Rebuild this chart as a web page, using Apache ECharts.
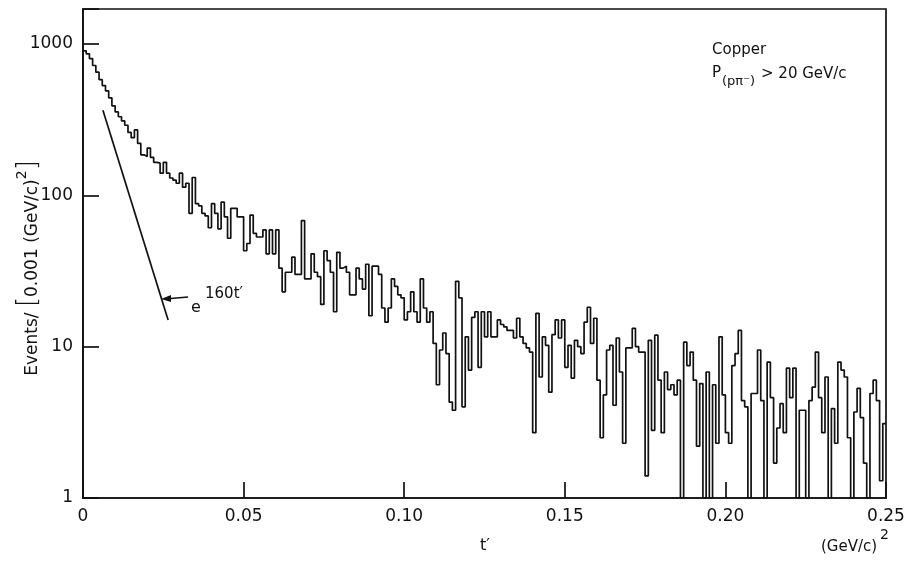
<!DOCTYPE html>
<html><head><meta charset="utf-8">
<script src="https://cdn.jsdelivr.net/npm/echarts@6/dist/echarts.min.js"></script>
<style>html,body{margin:0;padding:0;background:#fff}#c{width:911px;height:561px}</style>
</head><body><div id="c"></div>
<script>
// ---- data (events per 0.001 (GeV/c)^2 bin) ----
const binWidth = 0.001;
const counts = [
  900, 860, 800, 720, 650, 580, 530, 490, 440, 390,
  355, 330, 310, 290, 260, 240, 270, 220, 185, 180,
  205, 178, 165, 163, 140, 165, 140, 130, 126, 120,
  140, 113, 120, 76, 131, 88, 85, 76, 73, 61,
  88, 76, 60, 90, 72, 52, 82, 82, 72, 72,
  43, 48, 74, 56, 53, 53, 59, 41, 59, 41,
  59, 33, 23, 31, 31, 39, 30, 30, 68, 28,
  28, 41, 31, 29, 19, 43, 37, 31, 17, 42,
  33, 34, 31, 22, 22, 33, 28, 24, 35, 16,
  34, 34, 30, 18, 14.5, 18, 28, 25, 22, 21,
  15, 17, 23, 17, 14.5, 28, 18, 14.5, 17, 10.5,
  5.6, 9.5, 12.3, 9, 4.3, 3.8, 27, 21, 4, 11.6,
  7, 15.6, 17, 7.3, 17, 11.6, 17, 11.6, 11.6, 15,
  14, 13.5, 12.8, 12.8, 11.4, 15.4, 11.6, 10.5, 9.8, 9.2,
  2.7, 16.6, 6.3, 11.6, 10.2, 5, 12, 15, 11.4, 15,
  7.3, 10.2, 6.2, 11, 10, 9, 14.5, 18.2, 10.5, 15.4,
  6, 2.5, 4.8, 9.5, 10.2, 4.1, 11.4, 6.8, 2.3, 9.8,
  9.8, 13.2, 10, 9.2, 9.2, 1.4, 11, 2.8, 11.9, 6,
  2.7, 6.8, 5.2, 5.6, 4.8, 6, 1, 10.7, 7.5, 9.2,
  6, 2.2, 5.7, 1, 6.8, 1, 5.6, 2.3, 11.6, 4.8,
  2.7, 2.3, 7.5, 9, 12.8, 4.4, 4, 1, 4.9, 4.9,
  9.5, 4.4, 1, 7.9, 4.6, 1.7, 2.9, 4.2, 2.7, 7.2,
  4.6, 7.2, 1, 3.8, 3.8, 1, 4.4, 5.4, 9.2, 4.6,
  2.7, 6.3, 1, 3.9, 2.3, 7.9, 7, 6.3, 2.5, 1,
  3.7, 5.3, 3.4, 1.7, 1, 4.9, 6, 4.4, 1.3, 3.1
];
// straight-line fit e^{-160 t'} (end points)
const expLineT = [0.0062, 0.0265];
const expLineV = [365, 15];
// tick labels
const xTickValues = [0, 0.05, 0.10, 0.15, 0.20, 0.25];
const xTickLabels = ['0', '0.05', '0.10', '0.15', '0.20', '0.25'];
const yTickValues = [1, 10, 100, 1000];
const yTickLabels = ['1', '10', '100', '1000'];

// ---- build series ----
const histData = counts.map((v, i) => [i * binWidth, v]);
histData.push([counts.length * binWidth, counts[counts.length - 1]]);
const expData = expLineT.map((t, i) => [t, expLineV[i]]);

const FONT = 'DejaVu Sans';
const INK = '#111';

const chart = echarts.init(document.getElementById('c'), null, {renderer: 'canvas'});
chart.setOption({
  animation: false,
  backgroundColor: '#fff',
  grid: {left: 83, right: 25, top: 9, bottom: 63, show: true, borderColor: INK, borderWidth: 1.7, backgroundColor: 'transparent'},
  xAxis: {
    type: 'value', min: 0, max: 0.25, interval: 0.05,
    axisLine: {lineStyle: {color: INK, width: 1.7}},
    axisTick: {inside: true, length: 16, lineStyle: {color: INK, width: 1.7}},
    splitLine: {show: false},
    axisLabel: {
      color: INK, fontFamily: FONT, fontSize: 17, margin: 10,
      formatter: v => { const k = xTickValues.findIndex(t => Math.abs(t - v) < 1e-9); return k >= 0 ? xTickLabels[k] : ''; }
    }
  },
  yAxis: {
    type: 'log', logBase: 10, min: 1, max: 1700,
    axisLine: {lineStyle: {color: INK, width: 1.7}},
    axisTick: {inside: true, length: 16, lineStyle: {color: INK, width: 1.7}},
    splitLine: {show: false},
    minorTick: {show: false},
    axisLabel: {
      color: INK, fontFamily: FONT, fontSize: 17, margin: 10,
      formatter: v => { const k = yTickValues.findIndex(t => Math.abs(t - v) < 1e-6 * t); return k >= 0 ? yTickLabels[k] : ''; }
    }
  },
  series: [
    {type: 'line', data: histData, step: 'end', symbol: 'none', clip: true,
     lineStyle: {color: INK, width: 1.7}},
    {type: 'line', data: expData, symbol: 'none', clip: true,
     lineStyle: {color: INK, width: 1.7}}
  ],
  graphic: [
    // y-axis title
    {type: 'text', x: 28, y: 268, rotation: Math.PI / 2,
     style: {text: '{a|Events/ }{b|[}{a|0.001 (GeV/c)}{s|2}{b|]}', align: 'center', verticalAlign: 'middle',
       rich: {a: {fontFamily: FONT, fontSize: 17, fill: INK, verticalAlign: 'bottom'},
              b: {fontFamily: FONT, fontSize: 26, fill: INK, fontWeight: 'lighter'},
              s: {fontFamily: FONT, fontSize: 14, fill: INK, verticalAlign: 'top'}}}},
    // x-axis titles
    {type: 'text', x: 485, y: 546, style: {text: "t′", fontFamily: FONT, fontSize: 16, fill: INK, align: 'center', verticalAlign: 'middle'}},
    {type: 'text', x: 821, y: 547, style: {text: '(GeV/c)', fontFamily: FONT, fontSize: 15, fill: INK, align: 'left', verticalAlign: 'middle'}},
    {type: 'text', x: 880, y: 535, style: {text: '2', fontFamily: FONT, fontSize: 14, fill: INK, align: 'left', verticalAlign: 'middle'}},
    // in-plot annotations
    {type: 'text', x: 712, y: 50, style: {text: 'Copper', fontFamily: FONT, fontSize: 15, fill: INK, align: 'left', verticalAlign: 'middle'}},
    {type: 'text', x: 712, y: 73, style: {text: 'P', fontFamily: FONT, fontSize: 15, fill: INK, align: 'left', verticalAlign: 'middle'}},
    {type: 'text', x: 722, y: 82, style: {text: '(p\u03C0\u207B)', fontFamily: FONT, fontSize: 13, fill: INK, align: 'left', verticalAlign: 'middle'}},
    {type: 'text', x: 761, y: 74, style: {text: '> 20 GeV/c', fontFamily: FONT, fontSize: 15, fill: INK, align: 'left', verticalAlign: 'middle'}},
    // e^{160t'} label with arrow
    {type: 'text', x: 191, y: 308, style: {text: 'e', fontFamily: FONT, fontSize: 16, fill: INK, align: 'left', verticalAlign: 'middle'}},
    {type: 'text', x: 205, y: 294, style: {text: "160t′", fontFamily: FONT, fontSize: 15, fill: INK, align: 'left', verticalAlign: 'middle'}},
    {type: 'line', shape: {x1: 188, y1: 297, x2: 165, y2: 299}, style: {stroke: INK, lineWidth: 1.4}},
    {type: 'polygon', shape: {points: [[161, 299], [171, 295], [171, 302]]}, style: {fill: INK}}
  ]
});
</script></body></html>
